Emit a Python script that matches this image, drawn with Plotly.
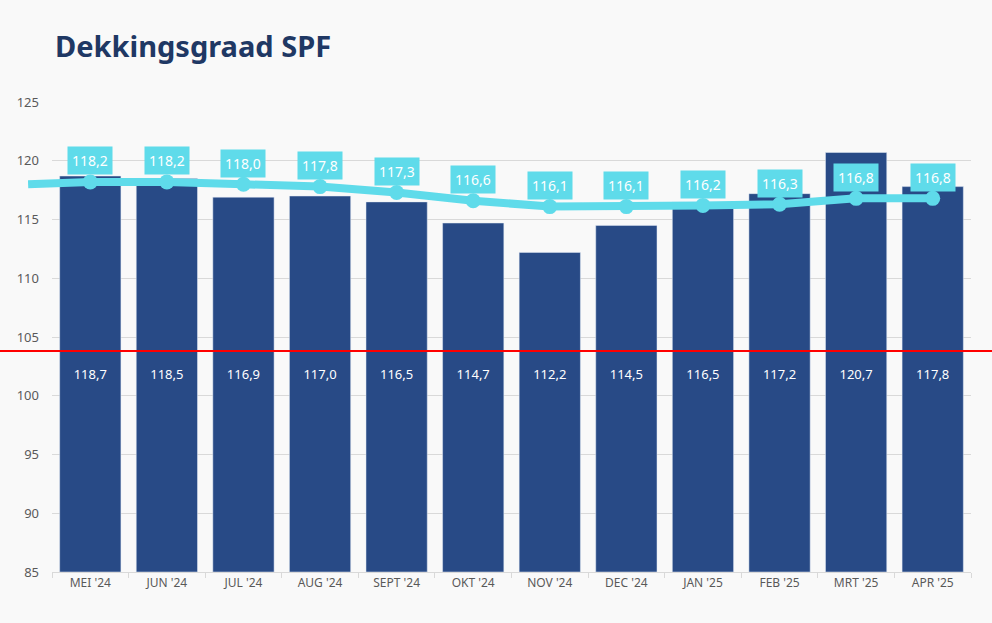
import plotly.graph_objects as go

months = ["MEI '24", "JUN '24", "JUL '24", "AUG '24", "SEPT '24", "OKT '24",
          "NOV '24", "DEC '24", "JAN '25", "FEB '25", "MRT '25", "APR '25"]
bar_values = [118.7, 118.5, 116.9, 117.0, 116.5, 114.7, 112.2, 114.5, 116.5, 117.2, 120.7, 117.8]
line_values = [118.2, 118.2, 118.0, 117.8, 117.3, 116.6, 116.1, 116.1, 116.2, 116.3, 116.8, 116.8]
prev_line_value = 118.0   # line enters from the left edge
threshold = 103.8
y_ticks = [85, 90, 95, 100, 105, 110, 115, 120, 125]

BAR = "#284a86"
CYAN = "#5fdbea"
FONT = "Noto Sans"

def fmt(v):
    return f"{v:.1f}".replace(".", ",")

fig = go.Figure()
fig.add_trace(go.Bar(
    x=months, y=[v - 85 for v in bar_values], base=85, marker_color=BAR, width=0.8,
    hoverinfo="skip", showlegend=False,
))
fig.add_trace(go.Scatter(
    x=months, y=[101.7] * len(months), mode="text",
    text=[fmt(v) for v in bar_values],
    textfont=dict(family=FONT, size=13, color="white"),
    showlegend=False, hoverinfo="skip",
))
fig.add_trace(go.Scatter(
    x=months, y=line_values, mode="lines+markers",
    line=dict(color=CYAN, width=8), marker=dict(color=CYAN, size=15),
    showlegend=False, cliponaxis=False,
))

n = len(months)
shapes = [
    dict(type="line", xref="paper", yref="y", x0=-0.026, x1=0.5 / n,
         y0=prev_line_value, y1=line_values[0], line=dict(color=CYAN, width=8), layer="above"),
    dict(type="line", xref="paper", yref="y", x0=-0.06, x1=1.03,
         y0=threshold, y1=threshold, line=dict(color="#ff0000", width=2), layer="above"),
]

annotations = [
    dict(x=m, y=v, xref="x", yref="y", text=fmt(v), showarrow=False, yshift=21,
         bgcolor=CYAN, borderpad=4, font=dict(family=FONT, size=14, color="white"))
    for m, v in zip(months, line_values)
]

fig.update_layout(
    width=992, height=623,
    margin=dict(l=52, r=21, t=102, b=51),
    paper_bgcolor="#f9f9f9", plot_bgcolor="#f9f9f9",
    title=dict(text="<b>Dekkingsgraad SPF</b>", x=55 / 992, xanchor="left",
               y=1 - 47 / 623, yanchor="middle",
               font=dict(family=FONT, size=29, color="#1f3864")),
    shapes=shapes,
    annotations=annotations,
    bargap=0.2,
    font=dict(family=FONT, color="#595959", size=13),
)
fig.update_xaxes(
    type="category", showgrid=False, showline=True, linecolor="#d9d9d9", linewidth=1,
    ticks="outside", tickson="boundaries", ticklen=5, tickcolor="#d9d9d9",
    tickfont=dict(family=FONT, size=12, color="#595959"), range=[-0.5, n - 0.5],
)
fig.update_yaxes(
    range=[85, 125], tickvals=y_ticks, showgrid=True, gridcolor="#d9d9d9", gridwidth=1,
    zeroline=False, showline=False, ticks="", ticklabelstandoff=12,
    tickfont=dict(family=FONT, size=13, color="#595959"),
)

fig.write_html("out.html", config={"displayModeBar": False},
               post_script="document.body.style.margin='0';document.body.style.background='#f9f9f9';")
